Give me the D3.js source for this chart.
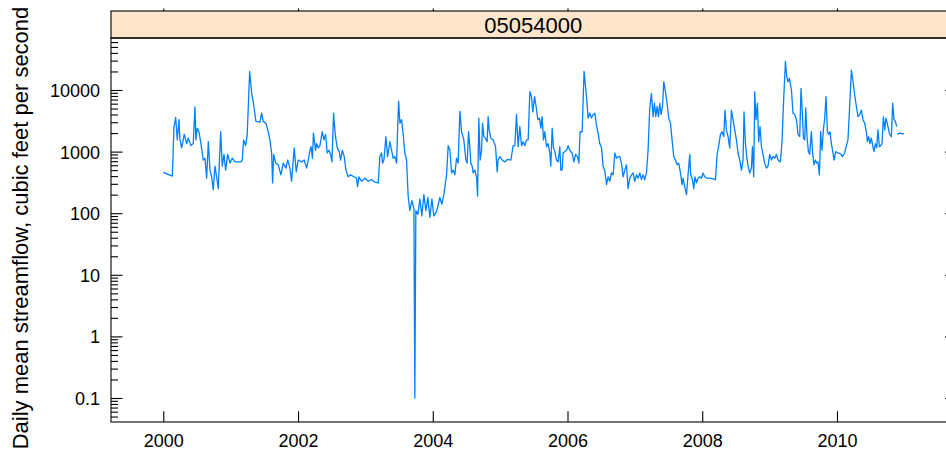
<!DOCTYPE html>
<html>
<head>
<meta charset="utf-8">
<script src="https://cdn.jsdelivr.net/npm/d3@7"></script>
<style>
  html, body { margin: 0; padding: 0; background: #fff; }
  svg { display: block; font-family: "Liberation Sans", Arial, sans-serif; }
</style>
</head>
<body>
<svg id="chart" width="946" height="451"></svg>
<script>
// ---- data (decimal years, daily mean streamflow in cfs) ----
const stationId = "05054000";
const yLabel = "Daily mean streamflow, cubic feet per second";
const years = [
2000.000,2000.134,2000.159,2000.184,2000.208,2000.233,2000.248,2000.273,2000.312,2000.347,
2000.371,2000.411,2000.445,2000.470,2000.485,2000.504,2000.530,2000.559,2000.593,2000.619,
2000.644,2000.668,2000.693,2000.718,2000.742,2000.767,2000.792,2000.816,2000.852,2000.875,
2000.901,2000.926,2000.956,2000.990,2001.024,2001.064,2001.153,2001.172,2001.193,2001.223,
2001.246,2001.282,2001.312,2001.335,2001.375,2001.435,2001.460,2001.484,2001.524,2001.558,
2001.583,2001.608,2001.623,2001.638,2001.668,2001.706,2001.746,2001.780,2001.821,2001.846,
2001.880,2001.905,2001.944,2001.973,2002.003,2002.053,2002.092,2002.128,2002.151,2002.177,
2002.194,2002.214,2002.229,2002.261,2002.276,2002.300,2002.325,2002.359,2002.384,2002.410,
2002.433,2002.458,2002.484,2002.503,2002.528,2002.552,2002.582,2002.611,2002.632,2002.656,
2002.686,2002.711,2002.745,2002.780,2002.829,2002.869,2002.884,2002.904,2002.944,2002.993,
2003.042,2003.092,2003.141,2003.190,2003.215,2003.240,2003.255,2003.275,2003.304,2003.329,
2003.364,2003.389,2003.413,2003.438,2003.463,2003.478,2003.493,2003.512,2003.537,2003.561,
2003.586,2003.611,2003.635,2003.660,2003.690,2003.720,2003.734,2003.749,2003.779,2003.809,
2003.838,2003.868,2003.898,2003.927,2003.957,2003.987,2004.016,2004.061,2004.105,2004.135,
2004.165,2004.205,2004.229,2004.254,2004.279,2004.303,2004.328,2004.353,2004.377,2004.402,
2004.427,2004.461,2004.491,2004.510,2004.531,2004.550,2004.565,2004.585,2004.599,2004.625,
2004.650,2004.665,2004.684,2004.703,2004.724,2004.739,2004.758,2004.783,2004.807,2004.822,
2004.837,2004.862,2004.896,2004.932,2004.956,2004.970,2004.996,2005.030,2005.070,2005.110,
2005.159,2005.193,2005.218,2005.243,2005.267,2005.292,2005.318,2005.341,2005.367,2005.392,
2005.416,2005.441,2005.466,2005.485,2005.511,2005.534,2005.559,2005.585,2005.604,2005.623,
2005.644,2005.663,2005.689,2005.712,2005.737,2005.752,2005.772,2005.792,2005.812,2005.837,
2005.861,2005.886,2005.901,2005.920,2005.935,2005.960,2005.985,2006.009,2006.034,2006.068,
2006.094,2006.119,2006.149,2006.168,2006.187,2006.217,2006.246,2006.282,2006.306,2006.331,
2006.356,2006.380,2006.405,2006.430,2006.454,2006.479,2006.505,2006.528,2006.553,2006.579,
2006.603,2006.628,2006.653,2006.677,2006.702,2006.727,2006.751,2006.776,2006.801,2006.825,
2006.850,2006.876,2006.899,2006.924,2006.950,2006.973,2006.999,2007.024,2007.048,2007.073,
2007.098,2007.122,2007.147,2007.172,2007.196,2007.221,2007.246,2007.270,2007.291,2007.310,
2007.330,2007.350,2007.370,2007.389,2007.410,2007.429,2007.454,2007.478,2007.503,2007.528,
2007.552,2007.577,2007.603,2007.626,2007.651,2007.677,2007.700,2007.715,2007.740,2007.766,
2007.789,2007.815,2007.829,2007.855,2007.874,2007.893,2007.914,2007.938,2007.963,2007.988,
2008.012,2008.037,2008.071,2008.111,2008.160,2008.196,2008.220,2008.245,2008.270,2008.294,
2008.319,2008.338,2008.359,2008.383,2008.408,2008.433,2008.457,2008.482,2008.508,2008.531,
2008.557,2008.582,2008.606,2008.620,2008.641,2008.660,2008.680,2008.705,2008.730,2008.745,
2008.764,2008.779,2008.798,2008.819,2008.838,2008.858,2008.879,2008.902,2008.927,2008.953,
2008.976,2009.001,2009.027,2009.051,2009.076,2009.101,2009.125,2009.160,2009.184,2009.209,
2009.235,2009.254,2009.273,2009.294,2009.324,2009.347,2009.373,2009.398,2009.422,2009.447,
2009.466,2009.481,2009.502,2009.521,2009.536,2009.555,2009.576,2009.595,2009.620,2009.640,
2009.659,2009.680,2009.699,2009.718,2009.739,2009.758,2009.778,2009.798,2009.818,2009.837,
2009.858,2009.877,2009.896,2009.917,2009.941,2009.956,2009.981,2010.015,2010.055,2010.080,
2010.114,2010.140,2010.163,2010.189,2010.214,2010.238,2010.263,2010.288,2010.312,2010.337,
2010.362,2010.386,2010.411,2010.436,2010.451,2010.470,2010.490,2010.510,2010.530,2010.549,
2010.570,2010.589,2010.608,2010.629,2010.649,2010.668,2010.689,2010.708,2010.727,2010.757,
2010.782,2010.807,2010.827,2010.846,2010.867,2010.886,2010.891,2010.896,2010.930,2010.970,
2010.994
];
const flows = [
460,400,2500,3600,1550,3300,1550,1150,1900,1350,
1650,1250,1350,5300,1550,2400,2100,1350,730,780,
370,1450,500,390,240,580,390,250,2100,580,
900,500,900,650,780,680,680,730,1550,1250,
1900,20000,8900,6400,3100,3000,4200,3100,2900,2100,
1550,950,310,900,650,610,420,650,540,730,
540,330,1150,470,730,680,730,540,730,1050,
1200,780,2000,1050,1350,1150,1250,2100,1550,1900,
950,1050,900,680,4200,1900,1150,1000,730,1050,
830,500,390,420,390,370,270,390,330,370,
330,350,320,310,830,950,650,730,1750,830,
1450,1050,780,830,650,2250,6600,2900,3300,1900,
950,730,190,110,160,120,0.1,110,95,170,
90,200,110,180,85,170,90,110,180,140,
200,420,1250,1050,450,500,420,780,650,4500,
2100,1550,730,650,2100,1200,650,580,450,500,
390,190,3500,730,1050,2900,1750,1650,1450,3700,
2250,1650,1550,1200,470,730,830,730,680,750,
730,1250,1250,4000,1200,2550,1250,1450,1250,1550,
1550,9400,7800,4400,7800,5400,3300,3500,2400,3700,
1550,2100,1200,1350,950,580,2400,1150,1000,730,
680,1200,500,500,950,1000,1050,1250,1050,950,
680,900,830,650,2100,2100,20000,7800,3500,4200,
3500,4000,4200,2700,2000,1350,1150,580,500,290,
390,330,450,420,950,780,830,830,650,390,
500,610,250,370,420,450,330,420,370,450,
350,420,350,450,1050,5100,8800,3700,6100,3700,
5400,3700,6100,4000,5400,13600,9400,6100,3500,2900,
1550,830,730,610,650,450,290,370,270,200,
420,900,420,350,250,390,310,370,390,370,
450,390,370,370,360,350,900,1250,1900,2100,
1750,4700,2250,1750,1150,4700,3300,2250,1550,950,
730,500,730,4400,1350,830,580,450,540,1200,
390,9400,3300,6100,1450,2550,1200,900,650,540,
580,900,730,830,780,900,730,680,1450,7300,
29000,16500,13600,15500,10000,4200,4000,3300,1900,1750,
10600,5400,1650,1550,5100,1750,1000,900,2100,900,
610,730,650,680,420,2100,1050,2250,3500,7800,
2100,1900,2100,1350,950,730,1000,950,920,830,
950,1250,1550,5700,21000,13600,8300,5400,3700,4000,
4700,3300,2900,2100,1450,1750,1350,1650,1250,1000,
1350,1150,2250,1200,1250,1350,3700,2250,3500,2550,
1900,1750,6100,3300,3100,2550,null,1900,2000,1950,
1950
];
const yMajorTicks = [0.1, 1, 10, 100, 1000, 10000];
const yMajorLabels = ["0.1", "1", "10", "100", "1000", "10000"];
const xTicks = [2000, 2002, 2004, 2006, 2008, 2010];
const xTickLabels = ["2000", "2002", "2004", "2006", "2008", "2010"];

// ---- layout ----
const svg = d3.select("#chart");
const panel = { left: 111, right: 956.5, top: 38, bottom: 422 };
const strip = { top: 11, bottom: 38 };

const x = d3.scaleLinear().domain([1999.224, 2011.774]).range([panel.left, panel.right]);
const y = d3.scaleLog().domain([Math.pow(10, -1.3896), Math.pow(10, 4.8442)]).range([panel.bottom, panel.top]);

const data = years.map((t, i) => ({ t: t, v: flows[i] }));

// minor ticks
const minorTicks = [];
for (let e = -2; e <= 4; e++) {
  for (let m = 2; m <= 9; m++) {
    const v = m * Math.pow(10, e);
    if (y(v) <= panel.bottom && y(v) >= panel.top) minorTicks.push(v);
  }
}

// strip
svg.append("rect")
  .attr("x", panel.left).attr("y", strip.top)
  .attr("width", panel.right - panel.left).attr("height", strip.bottom - strip.top)
  .attr("fill", "#FFE5CC").attr("stroke", "#000").attr("stroke-width", 1.1);
svg.append("text")
  .attr("x", (panel.left + panel.right) / 2 - 0.5)
  .attr("y", 32.5)
  .attr("text-anchor", "middle")
  .attr("font-size", 22)
  .attr("fill", "#000")
  .text(stationId);

// panel border
svg.append("rect")
  .attr("x", panel.left).attr("y", panel.top)
  .attr("width", panel.right - panel.left).attr("height", panel.bottom - panel.top)
  .attr("fill", "none").attr("stroke", "#000").attr("stroke-width", 1.1);

// left axis major
const gLeft = svg.append("g").attr("transform", `translate(${panel.left},0)`);
gLeft.call(d3.axisLeft(y).tickValues(yMajorTicks)
    .tickFormat((d, i) => yMajorLabels[i]).tickSize(-11.5).tickPadding(11))
  .call(g => g.select(".domain").remove())
  .call(g => g.selectAll("line").attr("stroke", "#000").attr("stroke-width", 1.1))
  .call(g => g.selectAll("text").attr("font-size", 18).attr("fill", "#000")
    .attr("font-family", "'Liberation Sans', Arial, sans-serif").attr("dy", "0.36em"));
// left axis minor
svg.append("g").attr("transform", `translate(${panel.left},0)`)
  .call(d3.axisLeft(y).tickValues(minorTicks).tickFormat("").tickSize(-7))
  .call(g => g.select(".domain").remove())
  .call(g => g.selectAll("line").attr("stroke", "#000").attr("stroke-width", 1.1));
// right axis major
svg.append("g").attr("transform", `translate(${panel.right},0)`)
  .call(d3.axisRight(y).tickValues(yMajorTicks).tickFormat("").tickSize(-11.5))
  .call(g => g.select(".domain").remove())
  .call(g => g.selectAll("line").attr("stroke", "#000").attr("stroke-width", 1.1));

// bottom axis
svg.append("g").attr("transform", `translate(0,${panel.bottom})`)
  .call(d3.axisBottom(x).tickValues(xTicks).tickFormat((d, i) => xTickLabels[i])
    .tickSize(-10.7).tickPadding(12))
  .call(g => g.select(".domain").remove())
  .call(g => g.selectAll("line").attr("stroke", "#000").attr("stroke-width", 1.1))
  .call(g => g.selectAll("text").attr("font-size", 18).attr("fill", "#000")
    .attr("font-family", "'Liberation Sans', Arial, sans-serif"));
// top axis (small outward ticks above the strip)
svg.append("g").attr("transform", `translate(0,${strip.top})`)
  .call(d3.axisTop(x).tickValues(xTicks).tickFormat("").tickSize(2.5))
  .call(g => g.select(".domain").remove())
  .call(g => g.selectAll("line").attr("stroke", "#000").attr("stroke-width", 1.1));

// y label
svg.append("text")
  .attr("transform", "translate(28.3,228) rotate(-90)")
  .attr("text-anchor", "middle")
  .attr("font-size", 22)
  .attr("fill", "#000")
  .text(yLabel);

// series line
const line = d3.line()
  .defined(d => d.v != null)
  .x(d => x(d.t))
  .y(d => y(d.v));
svg.append("path")
  .datum(data)
  .attr("d", line)
  .attr("fill", "none")
  .attr("stroke", "#0080FF")
  .attr("stroke-width", 1.3)
  .attr("stroke-linejoin", "round");
</script>
</body>
</html>
